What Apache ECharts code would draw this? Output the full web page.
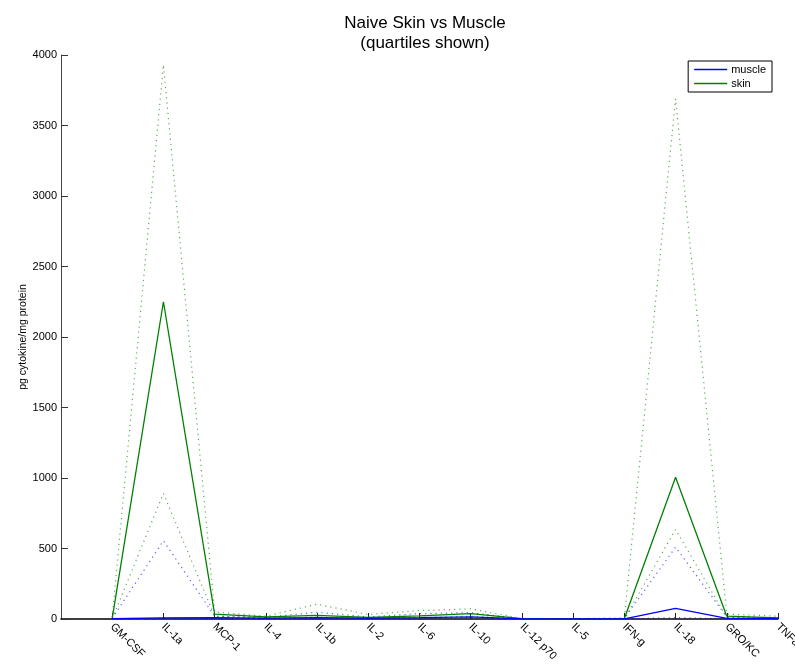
<!DOCTYPE html>
<html>
<head>
<meta charset="utf-8">
<script src="https://cdn.jsdelivr.net/npm/echarts@6/dist/echarts.min.js"></script>
<style>
  html, body { margin: 0; padding: 0; background: #fff; }
  #chart { width: 795px; height: 665px; }
</style>
</head>
<body>
<div id="chart"></div>
<script>
// cytokines on the x axis (positions 1..14)
const categories = ['GM-CSF', 'IL-1a', 'MCP-1', 'IL-4', 'IL-1b', 'IL-2', 'IL-6', 'IL-10', 'IL-12 p70', 'IL-5', 'IFN-g', 'IL-18', 'GRO/KC', 'TNFa'];

// skin: median and quartiles
const skinMedian = [5, 2250, 35, 15, 25, 12, 22, 38, 2, 1, 3, 1005, 20, 8];
const skinQ1     = [2, 890, 20, 8, 12, 6, 10, 20, 1, 0, 1, 635, 10, 4];
const skinQ3     = [10, 3930, 50, 20, 105, 32, 60, 72, 3, 2, 8, 3690, 35, 20];

// muscle: median and quartiles
const muscleMedian = [2, 8, 10, 6, 10, 6, 10, 15, 1, 0, 1, 75, 5, 4];
const muscleQ1     = [1, 4, 5, 3, 5, 3, 5, 8, 0, 0, 0, 10, 2, 2];
const muscleQ3     = [5, 555, 20, 12, 48, 15, 38, 45, 2, 1, 3, 510, 15, 8];

const yTicks = [0, 500, 1000, 1500, 2000, 2500, 3000, 3500, 4000];

const FONT = '"Liberation Sans", Arial, Helvetica, sans-serif';
const BLUE = '#0000ff';
const GREEN = '#008000';

function pts(arr) {
  return arr.map(function (v, i) { return [i + 1, v]; });
}

function solid(name, color, arr) {
  return {
    name: name, type: 'line', data: pts(arr),
    symbol: 'none', showSymbol: false, silent: true,
    lineStyle: { color: color, width: 1.3, type: 'solid' },
    itemStyle: { color: color },
    z: 3
  };
}

function dotted(name, color, arr) {
  return {
    name: name, type: 'line', data: pts(arr),
    symbol: 'none', showSymbol: false, silent: true,
    lineStyle: { color: color, width: 1.2, type: [1.2, 4], opacity: 0.65 },
    itemStyle: { color: color },
    z: 2
  };
}

const chart = echarts.init(document.getElementById('chart'), null, { renderer: 'canvas' });

chart.setOption({
  animation: false,
  backgroundColor: '#fff',
  textStyle: { fontFamily: FONT },
  title: {
    text: 'Naive Skin vs Muscle\n(quartiles shown)',
    left: 420, top: 8, textAlign: 'center',
    textStyle: { fontFamily: FONT, fontSize: 17, fontWeight: 'normal', color: '#000', lineHeight: 20 }
  },
  legend: {
    data: ['muscle', 'skin'],
    orient: 'vertical',
    right: 23, top: 61,
    icon: 'rect',
    itemWidth: 33, itemHeight: 1.3,
    itemGap: 3,
    padding: [3, 6, 3, 6],
    borderColor: '#000', borderWidth: 1,
    backgroundColor: '#fff',
    textStyle: { fontFamily: FONT, fontSize: 11, color: '#000', padding: [0, 0, 0, -1] }
  },
  grid: { left: 61, right: 17, top: 55, bottom: 46, containLabel: false, outerBoundsMode: 'none' },
  xAxis: {
    type: 'value', min: 0, max: 14, interval: 1,
    axisLine: { show: true, lineStyle: { color: '#000', width: 1.5 } },
    axisTick: { show: true, inside: true, length: 6, lineStyle: { color: '#222' } },
    splitLine: { show: false },
    axisLabel: {
      rotate: -45, margin: 6,
      fontFamily: FONT, fontSize: 11, color: '#000',
      showMinLabel: false, showMaxLabel: true,
      formatter: function (v) { return categories[v - 1] || ''; }
    }
  },
  yAxis: {
    type: 'value', min: yTicks[0], max: yTicks[yTicks.length - 1], interval: 500,
    name: 'pg cytokine/mg protein',
    nameLocation: 'middle', nameGap: 32, nameRotate: 90, nameMoveOverlap: false,
    nameTextStyle: { fontFamily: FONT, fontSize: 10.5, color: '#000' },
    axisLine: { show: true, lineStyle: { color: '#444', width: 1 } },
    axisTick: { show: true, inside: true, length: 7, lineStyle: { color: '#333' } },
    splitLine: { show: false },
    axisLabel: {
      fontFamily: FONT, fontSize: 11, color: '#000', margin: 4,
      formatter: function (v) { return String(v); }
    }
  },
  series: [
    dotted('muscle q1', BLUE, muscleQ1),
    dotted('muscle q3', BLUE, muscleQ3),
    dotted('skin q1', GREEN, skinQ1),
    dotted('skin q3', GREEN, skinQ3),
    solid('skin', GREEN, skinMedian),
    solid('muscle', BLUE, muscleMedian)
  ]
});
</script>
</body>
</html>
